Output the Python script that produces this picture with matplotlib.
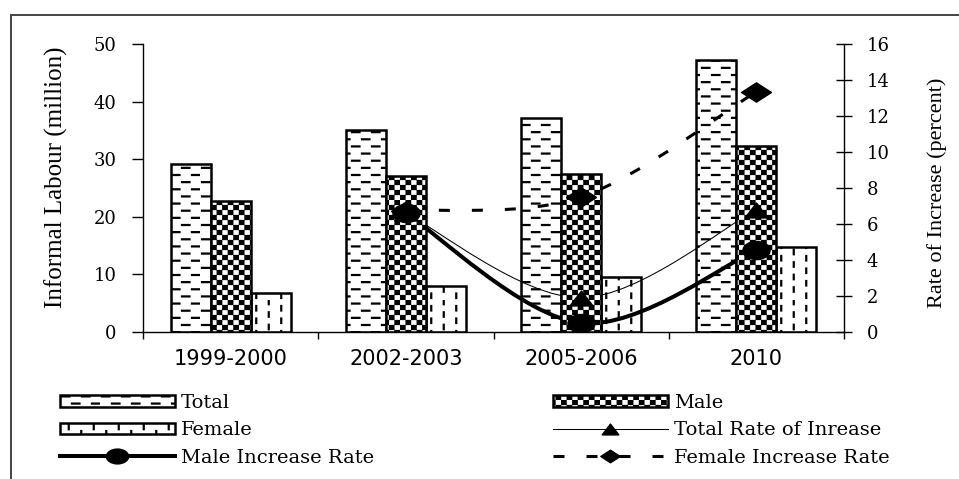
import numpy as np
import matplotlib
matplotlib.use("Agg")
import matplotlib.pyplot as plt
import matplotlib.hatch as mhatch
from matplotlib.path import Path
from matplotlib.patches import PathPatch, Rectangle
from matplotlib.lines import Line2D
from matplotlib.markers import MarkerStyle

# ---------------- data ----------------
periods = ["1999-2000", "2002-2003", "2005-2006", "2010"]
total = [29.2, 35.0, 37.1, 47.3]
male = [22.7, 27.1, 27.4, 32.3]
female = [6.7, 7.9, 9.6, 14.8]

rate_idx = [1, 2, 3]            # rates exist from 2002-2003 on
total_rate = [6.6, 1.9, 6.8]
male_rate = [6.6, 0.5, 4.55]
female_rate = [6.75, 7.5, 13.35]

bar_labels = ["Total", "Male", "Female"]
rate_labels = ["Total Rate of Inrease", "Male Increase Rate", "Female Increase Rate"]

# ---------------- custom hatch patterns ----------------
class DashRows(mhatch.HatchPatternBase):
    nrows, ndash = 14, 5
    def __init__(self, hatch, density):
        self.num_vertices = self.nrows * self.ndash * 2 if "-" in hatch else 0
    def set_vertices_and_codes(self, vertices, codes):
        k = 0
        for r in range(self.nrows):
            y = (r + 0.5) / self.nrows
            off = 0.1 if r % 2 else 0.0
            for d in range(self.ndash):
                x0 = d * 0.2 + off + 0.02
                vertices[k] = (x0, y)
                vertices[k + 1] = (x0 + 0.075, y)
                codes[k] = Path.MOVETO
                codes[k + 1] = Path.LINETO
                k += 2

class Checker(mhatch.HatchPatternBase):
    nx, ny = 18, 20
    def __init__(self, hatch, density):
        n = sum(1 for i in range(self.nx) for j in range(self.ny) if (i + j) % 2 == 0)
        self.num_vertices = n * 5 if "+" in hatch else 0
    def set_vertices_and_codes(self, vertices, codes):
        w, h = 1.0 / self.nx, 1.0 / self.ny
        s = 0.010
        k = 0
        for i in range(self.nx):
            for j in range(self.ny):
                if (i + j) % 2:
                    continue
                x0, y0 = i * w + s, j * h + s
                x1, y1 = (i + 1) * w - s, (j + 1) * h - s
                vertices[k:k + 5] = [(x0, y0), (x1, y0), (x1, y1), (x0, y1), (x0, y0)]
                codes[k] = Path.MOVETO
                codes[k + 1:k + 4] = Path.LINETO
                codes[k + 4] = Path.CLOSEPOLY
                k += 5

class VDash(mhatch.HatchPatternBase):
    ncol, nper = 8, 8
    def __init__(self, hatch, density):
        self.num_vertices = self.ncol * self.nper * 2 if "|" in hatch else 0
    def set_vertices_and_codes(self, vertices, codes):
        k = 0
        for c in range(self.ncol):
            x = (c + 0.5) / self.ncol
            off = 0.0625 if c % 2 else 0.0
            for p in range(self.nper):
                y0 = p / self.nper + off + 0.02
                vertices[k] = (x, y0)
                vertices[k + 1] = (x, y0 + 0.045)
                codes[k] = Path.MOVETO
                codes[k + 1] = Path.LINETO
                k += 2

mhatch._hatch_types[:] = [DashRows, Checker, VDash]

plt.rcParams["hatch.linewidth"] = 1.6
plt.rcParams["hatch.color"] = "black"
plt.rcParams["font.family"] = ["DejaVu Serif"]

# ---------------- helpers ----------------
def smooth_path(xs, ys):
    P = np.column_stack([xs, ys]).astype(float)
    n = len(P)
    verts = [P[0]]
    codes = [Path.MOVETO]
    for i in range(n - 1):
        p0 = P[i - 1] if i > 0 else P[i]
        p3 = P[i + 2] if i + 2 < n else P[i + 1]
        c1 = P[i] + (P[i + 1] - p0) / 6.0
        c2 = P[i + 1] - (p3 - P[i]) / 6.0
        verts += [c1, c2, P[i + 1]]
        codes += [Path.CURVE4] * 3
    return Path(verts, codes)

def shape(verts):
    v = list(verts) + [verts[0]]
    c = [Path.MOVETO] + [Path.LINETO] * (len(verts) - 1) + [Path.CLOSEPOLY]
    return MarkerStyle(Path(v, c))

uc = Path.unit_circle()
ellipse = MarkerStyle(Path(uc.vertices * [1.5, 1.0], uc.codes))
diamond = shape([(0, -1), (1.55, 0), (0, 1), (-1.55, 0)])
triangle = shape([(-1, -0.65), (1, -0.65), (0, 0.65)])

# ---------------- figure ----------------
fig = plt.figure(figsize=(9.59, 4.79), dpi=100)
L, R, B, T = 143 / 959, 844 / 959, 1 - 332 / 479, 1 - 44 / 479
ax = fig.add_axes([L, B, R - L, T - B])
ax2 = ax.twinx()

x = np.arange(len(periods))
w = 0.228
b_total = ax.bar(x - w, total, w, facecolor="white", edgecolor="black",
                 hatch="-", linewidth=1.8, zorder=2, label=bar_labels[0])
b_female = ax.bar(x + w, female, w, facecolor="white", edgecolor="black",
                  hatch="|", linewidth=1.8, zorder=2, label=bar_labels[2])
b_male = ax.bar(x, male, w, facecolor="white", edgecolor="black",
                hatch="+", linewidth=1.8, zorder=4, label=bar_labels[1])

tr = ax2.transData
ax.add_patch(PathPatch(smooth_path(rate_idx, female_rate), fill=False, ec="black",
                       lw=2.2, ls=(0, (3.6, 7.2)), transform=tr, zorder=3))
ax.add_patch(PathPatch(smooth_path(rate_idx, total_rate), fill=False, ec="black",
                       lw=0.75, transform=tr, zorder=3))
ax.add_patch(PathPatch(smooth_path(rate_idx, male_rate), fill=False, ec="black",
                       lw=2.9, transform=tr, zorder=3))
ax.plot(rate_idx, female_rate, ls="none", marker=diamond, ms=21.5, color="black",
        transform=tr, zorder=5)
ax.plot(rate_idx, total_rate, ls="none", marker=triangle, ms=16.5, color="black",
        transform=tr, zorder=5)
ax.plot(rate_idx, male_rate, ls="none", marker=ellipse, ms=19.5, color="black",
        transform=tr, zorder=6)

# axes limits / ticks
ax.set_xlim(-0.5, 3.5)
ax.set_ylim(0, 50)
ax2.set_ylim(0, 16)
ax.set_yticks(range(0, 51, 10))
ax2.set_yticks(range(0, 17, 2))
ax.set_xticks(np.arange(-0.5, 3.6, 1.0))
ax.set_xticklabels([])
ax.set_xticks(x, minor=True)
ax.set_xticklabels(periods, minor=True, fontfamily="DejaVu Sans", fontsize=15)
ax.tick_params(axis="x", which="major", length=5, width=1, direction="out")
ax.tick_params(axis="x", which="minor", length=0, pad=12)
ax.tick_params(axis="y", length=8, width=1, direction="out", pad=11, labelsize=13)
ax2.tick_params(axis="y", length=11, width=1, direction="inout", pad=11, labelsize=13)

for s in ["top", "right"]:
    ax.spines[s].set_visible(False)
for s in ["top", "left", "bottom"]:
    ax2.spines[s].set_visible(False)
for s in ax.spines.values():
    s.set_linewidth(1)
ax2.spines["right"].set_linewidth(1)

ax.set_ylabel("Informal Labour (million)", fontfamily="Liberation Serif",
              fontsize=18, va="center", ha="center")
ax.yaxis.set_label_coords((56 - 143) / 701, (332 - 177.5) / 288)
ax2.set_ylabel("Rate of Increase (percent)", fontfamily="Liberation Serif",
               fontsize=16, va="center", ha="center")
ax2.yaxis.set_label_coords((937 - 143) / 701, (332 - 192.5) / 288)

# legends
h_total_rate = Line2D([], [], color="black", lw=0.75, marker=triangle, ms=12)
h_male_rate = Line2D([], [], color="black", lw=2.9, marker=ellipse, ms=16)
h_female_rate = Line2D([], [], color="black", lw=2.2, ls=(0, (3.6, 7.2)),
                       marker=diamond, ms=14)
common = dict(loc="upper left", frameon=False, borderpad=0, borderaxespad=0,
              handlelength=5.9, handleheight=0.55, handletextpad=0.3,
              labelspacing=0.48, numpoints=1,
              prop={"family": "DejaVu Serif", "size": 14})
fig.legend([b_total, b_female, h_male_rate],
           [bar_labels[0], bar_labels[2], rate_labels[1]],
           bbox_to_anchor=(60 / 959, 1 - 394 / 479), **common)
fig.legend([b_male, h_total_rate, h_female_rate],
           [bar_labels[1], rate_labels[0], rate_labels[2]],
           bbox_to_anchor=(553 / 959, 1 - 394 / 479), **common)

# outer frame
fig.add_artist(Rectangle((11 / 959, -0.05), 1.0, (479 - 15) / 479 + 0.05,
                         transform=fig.transFigure, fill=False,
                         edgecolor="#444444", linewidth=1.4))

fig.savefig("out.png", dpi=100)
